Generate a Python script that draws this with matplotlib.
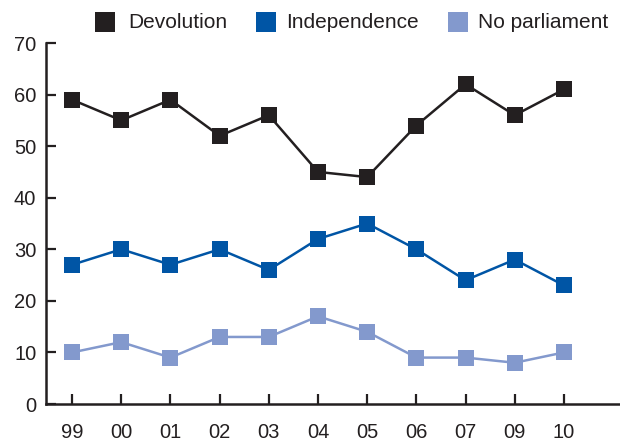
import matplotlib
matplotlib.use("Agg")
import matplotlib.pyplot as plt
from matplotlib.lines import Line2D

years = ["99", "00", "01", "02", "03", "04", "05", "06", "07", "09", "10"]
devolution = [59, 55, 59, 52, 56, 45, 44, 54, 62, 56, 61]
independence = [27, 30, 27, 30, 26, 32, 35, 30, 24, 28, 23]
no_parliament = [10, 12, 9, 13, 13, 17, 14, 9, 9, 8, 10]
series_names = ["Devolution", "Independence", "No parliament"]
colors = ["#231f20", "#0055a5", "#8399cd"]

plt.rcParams['font.family'] = ['Liberation Sans', 'DejaVu Sans']
W, H = 620, 441
fig = plt.figure(figsize=(W / 100, H / 100), dpi=100)
ax = fig.add_axes([46 / W, 1 - 404 / H, (620 - 46) / W, (404 - 43) / H])

x = list(range(len(years)))
for vals, c in zip([devolution, independence, no_parliament], colors):
    ax.plot(x, vals, color=c, lw=1.8, marker='s', markersize=11.5,
            markeredgewidth=0, clip_on=False, zorder=3)

ax.set_ylim(0, 70)
ax.set_xlim(-0.53, 11.14)
ax.set_yticks(range(0, 71, 10))
ax.set_xticks(x)
ax.set_xticklabels(years)

dark = "#231f20"
for s in ["top", "right"]:
    ax.spines[s].set_visible(False)
for s in ["left", "bottom"]:
    ax.spines[s].set_linewidth(1.8)
    ax.spines[s].set_color(dark)
ax.tick_params(axis='both', direction='in', length=7, width=1.6, color=dark,
               labelsize=14.5, labelcolor=dark)
ax.tick_params(axis='y', pad=7)
ax.tick_params(axis='x', pad=14)

# legend drawn manually at the top
sq_x = [105, 266, 458]
txt_x = [128, 286, 478]
ly = 1 - 22 / H
for name, c, sx, tx in zip(series_names, colors, sq_x, txt_x):
    fig.add_artist(Line2D([sx / W], [ly], transform=fig.transFigure, color=c,
                          marker='s', markersize=15, markeredgewidth=0, linestyle='none'))
    fig.text(tx / W, ly, name, ha='left', va='center', fontsize=15, color=dark)

fig.savefig("out.png", dpi=100)
